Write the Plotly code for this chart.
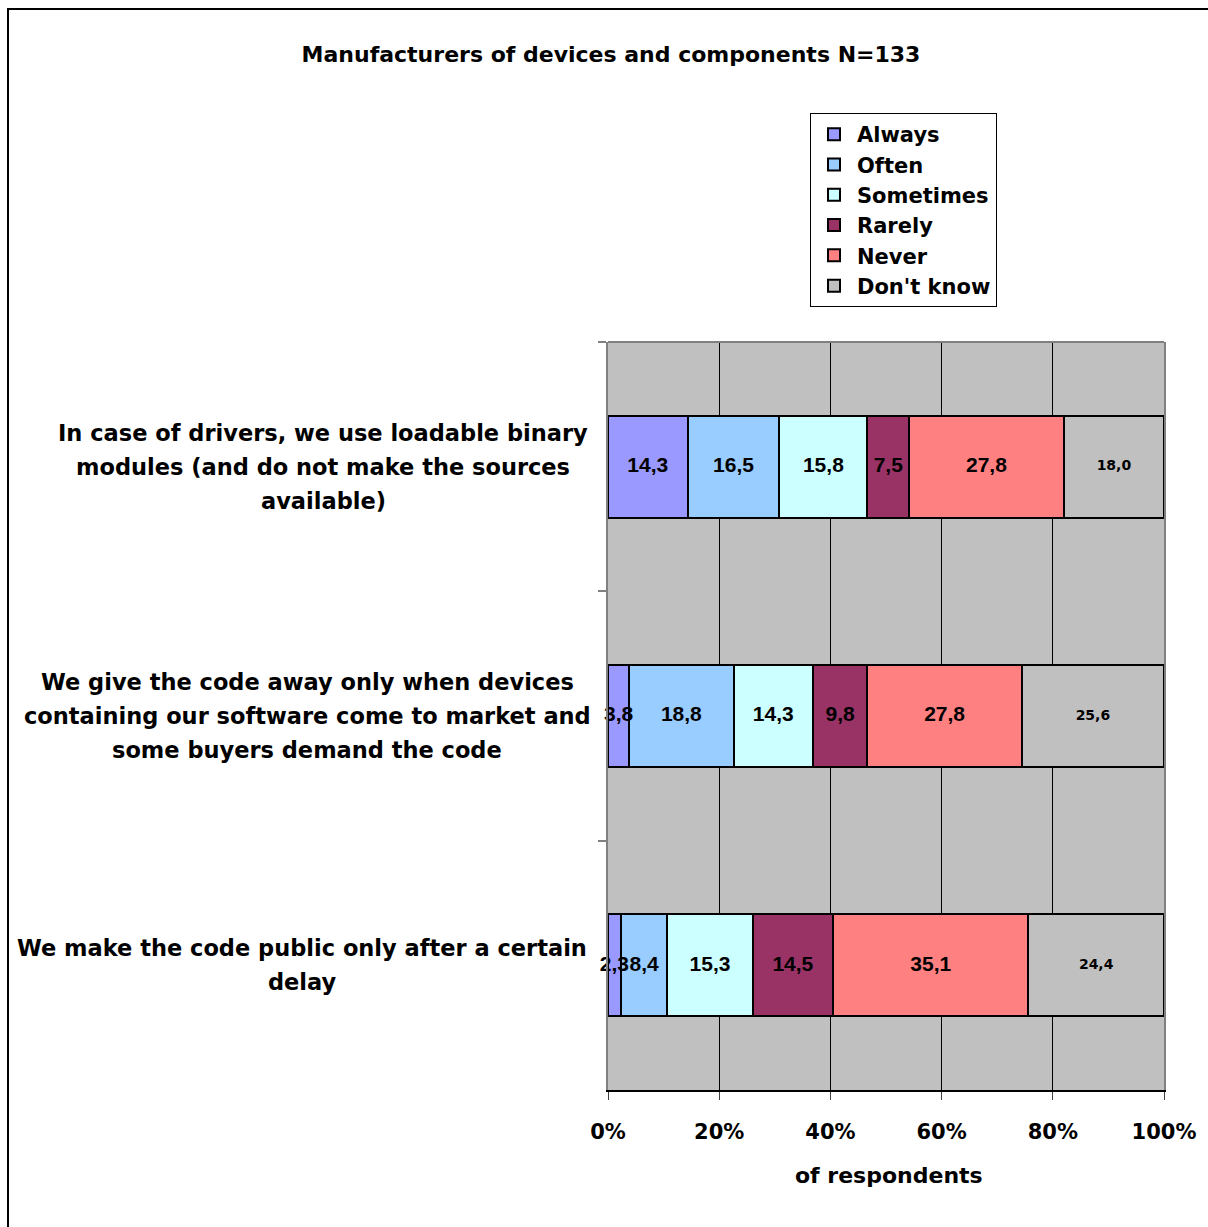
import numpy as np
import plotly.graph_objects as go

# categories (one per bar), and how each label is broken into lines
CATEGORIES = [
    "In case of drivers, we use loadable binary modules (and do not make the sources available)",
    "We give the code away only when devices containing our software come to market and some buyers demand the code",
    "We make the code public only after a certain delay",
]
LABEL_LINES = [
    ["In case of drivers, we use loadable binary", "modules (and do not make the sources", "available)"],
    ["We give the code away only when devices", "containing our software come to market and", "some buyers demand the code"],
    ["We make the code public only after a certain", "delay"],
]

SERIES = ["Always", "Often", "Sometimes", "Rarely", "Never", "Don't know"]
ALWAYS = [14.3, 3.8, 2.3]
OFTEN = [16.5, 18.8, 8.4]
SOMETIMES = [15.8, 14.3, 15.3]
RARELY = [7.5, 9.8, 14.5]
NEVER = [27.8, 27.8, 35.1]
DONT_KNOW = [18.0, 25.6, 24.4]

X_TICKS = [0, 20, 40, 60, 80, 100]
X_TICK_LABELS = ["0%", "20%", "40%", "60%", "80%", "100%"]

TITLE = "Manufacturers of devices and components N=133"
X_TITLE = "of respondents"

COLORS = ["#9999FF", "#99CCFF", "#CCFFFF", "#993366", "#FF8080", "#C0C0C0"]

W, H = 1208, 1227
L, R, T, B = 608, 1164, 342, 1090   # plot area in pixels
PW, PH = R - L, B - T


def px_x(x):
    return (x - L) / PW


def px_y(y):
    return (B - y) / PH


LABEL_FONT = dict(family="DejaVu Sans", size=22.5, color="black", weight="bold")
LABEL_CENTERS = [323, 307, 302]
LINE_GAP = 34

fig = go.Figure()

values = [ALWAYS, OFTEN, SOMETIMES, RARELY, NEVER, DONT_KNOW]
for i, (name, vals) in enumerate(zip(SERIES, values)):
    fig.add_trace(go.Bar(
        name=name,
        y=CATEGORIES,
        x=vals,
        orientation="h",
        marker=dict(color=COLORS[i], line=dict(color="black", width=2)),
        hoverinfo="name+x",
    ))

# value labels go in one text layer on top of all bars, so the labels of
# the thin segments can spill over their neighbours like in Excel
arr = np.array(values)
share = arr / arr.sum(axis=0) * 100          # same as barnorm="percent"
mids = np.cumsum(share, axis=0) - share / 2
lab_x, lab_y, lab_t, lab_size, lab_family = [], [], [], [], []
for i, name in enumerate(SERIES):
    small = name == "Don't know"
    for j, cat in enumerate(CATEGORIES):
        lab_x.append(mids[i, j])
        lab_y.append(cat)
        lab_t.append(f"{arr[i, j]:.1f}".replace(".", ","))
        lab_size.append(14 if small else 21)
        lab_family.append("DejaVu Sans" if small else "Liberation Sans")

fig.add_trace(go.Scatter(
    x=lab_x, y=lab_y, text=lab_t,
    mode="text",
    textposition="middle center",
    textfont=dict(family=lab_family, size=lab_size, color="black", weight="bold"),
    cliponaxis=False,
    showlegend=False,
    hoverinfo="skip",
))

# category labels, one annotation per line so the line spacing matches
for cat, lines, cx in zip(CATEGORIES, LABEL_LINES, LABEL_CENTERS):
    n = len(lines)
    for j, line in enumerate(lines):
        fig.add_annotation(
            text=line,
            xref="paper", yref="y",
            x=px_x(cx), y=cat,
            xanchor="center", yanchor="middle",
            yshift=((n - 1) / 2 - j) * LINE_GAP,
            showarrow=False,
            font=LABEL_FONT,
        )

fig.add_annotation(
    text=X_TITLE,
    xref="paper", yref="paper",
    x=px_x(889), y=px_y(1175),
    xanchor="center", yanchor="middle",
    showarrow=False,
    font=dict(family="DejaVu Sans", size=22, color="black", weight="bold"),
)

# outer chart frame
fig.add_shape(
    type="rect", xref="paper", yref="paper",
    x0=px_x(8), x1=px_x(1215), y0=px_y(1235), y1=px_y(9),
    line=dict(color="black", width=2), layer="above",
)
# top border of the plot area
fig.add_shape(
    type="line", xref="paper", yref="paper",
    x0=0, x1=1, y0=1, y1=1,
    line=dict(color="#808080", width=2), layer="above",
)

fig.update_layout(
    width=W,
    height=H,
    barmode="stack",
    barnorm="percent",
    bargap=0.59,
    plot_bgcolor="#C0C0C0",
    paper_bgcolor="white",
    margin=dict(l=L, r=W - R, t=T, b=H - B, pad=0),
    title=dict(
        text=TITLE,
        x=611 / W, y=1 - 54 / H,
        xanchor="center", yanchor="middle",
        font=dict(family="DejaVu Sans", size=22, color="black", weight="bold"),
    ),
    legend=dict(
        x=px_x(810), y=px_y(113),
        xanchor="left", yanchor="top",
        bordercolor="black", borderwidth=1,
        bgcolor="white",
        traceorder="normal",
        itemwidth=36,
        font=dict(family="DejaVu Sans", size=21, color="black", weight="bold"),
    ),
    xaxis=dict(
        range=[0, 100],
        tickvals=X_TICKS,
        ticktext=X_TICK_LABELS,
        ticks="outside",
        ticklen=8,
        tickcolor="#404040",
        tickwidth=1,
        ticklabelstandoff=14,
        tickfont=dict(family="DejaVu Sans", size=21, color="black", weight="bold"),
        showgrid=True,
        gridcolor="black",
        gridwidth=1,
        showline=True,
        linecolor="black",
        linewidth=2,
        zeroline=False,
        fixedrange=True,
    ),
    yaxis=dict(
        autorange="reversed",
        showticklabels=False,
        ticks="outside",
        tickson="boundaries",
        ticklen=8,
        tickwidth=2,
        tickcolor="#808080",
        showgrid=False,
        showline=True,
        mirror=True,
        linecolor="#808080",
        linewidth=2,
        fixedrange=True,
    ),
)

# the page body has a default margin; drop it so the figure fills the window
fig.write_html(
    "out.html",
    config={"displayModeBar": False},
    post_script="document.body.style.margin = '0';",
)
